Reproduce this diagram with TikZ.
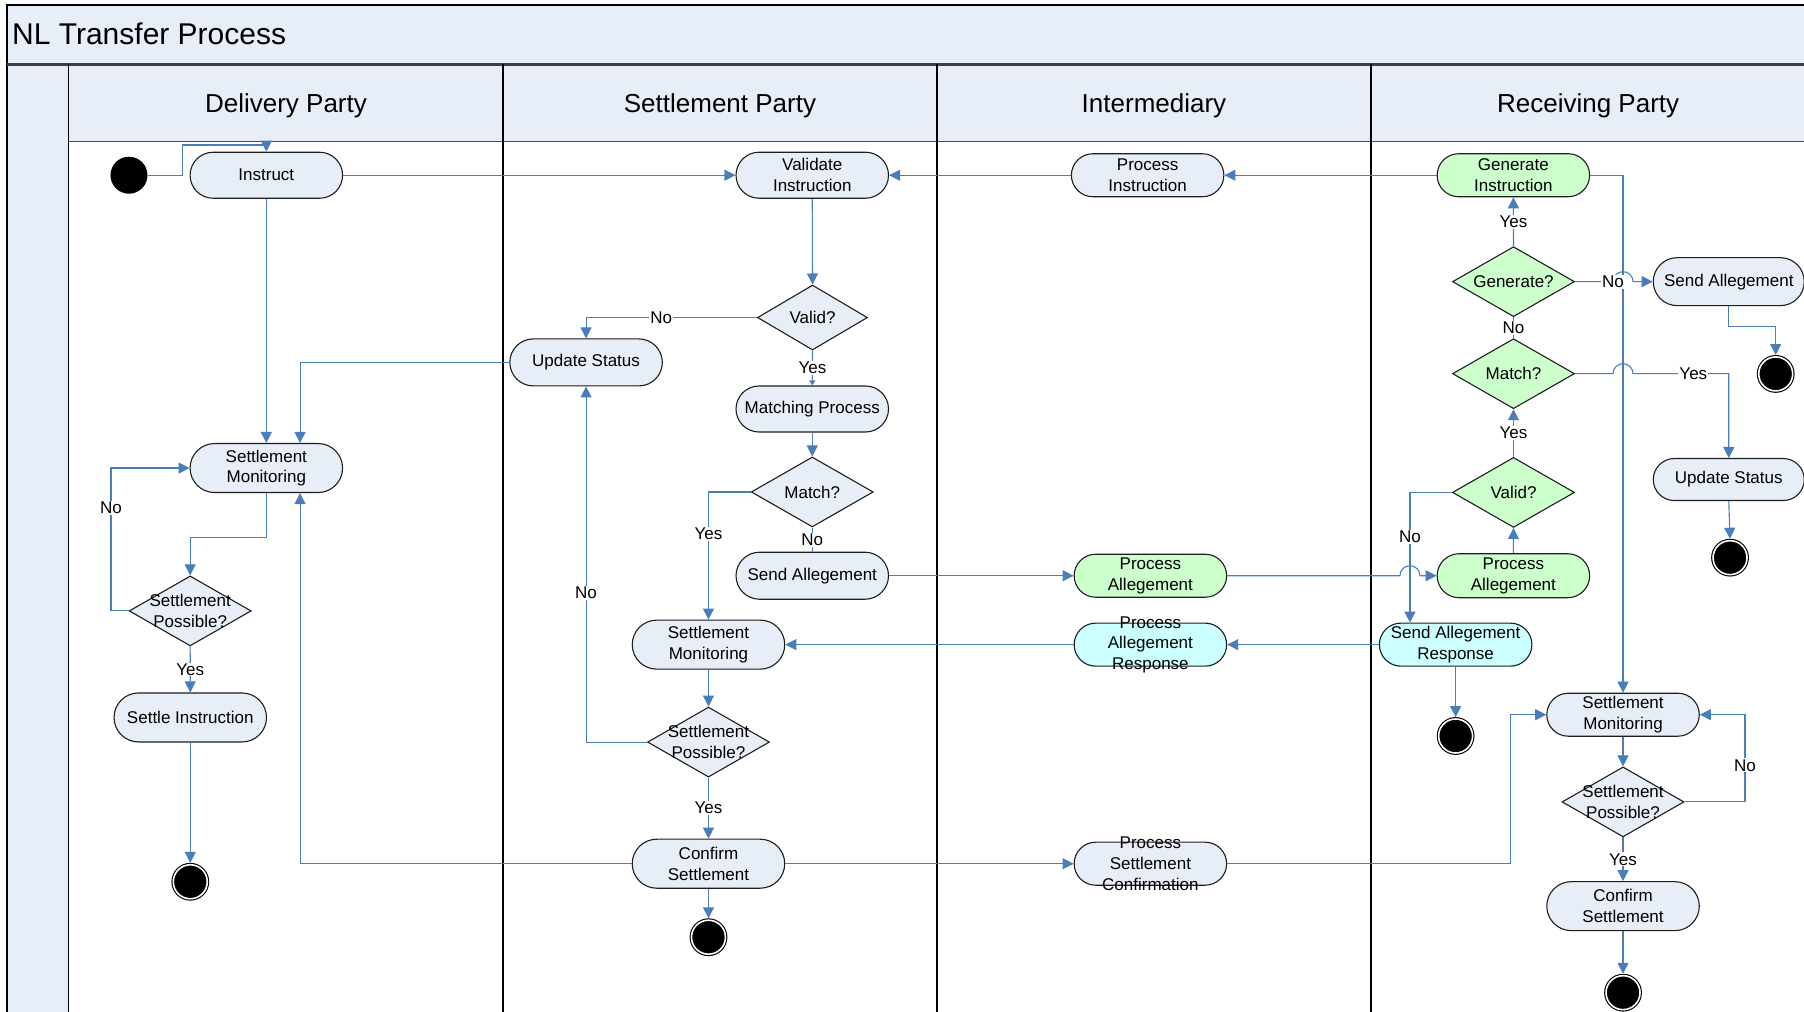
\documentclass[tikz,border=0pt]{standalone}
\usepackage{fontspec}
\setmainfont{Liberation Sans}
\usetikzlibrary{shapes.geometric,shapes.misc,arrows.meta,calc}

\definecolor{paleblue}{HTML}{E8EEF7}
\definecolor{palegreen}{HTML}{CCFFCC}
\definecolor{palecyan}{HTML}{CCFFFF}
\definecolor{flowblue}{HTML}{4A7EBB}
\definecolor{inkline}{HTML}{1E1E1E}
\newcommand{\nodefont}{\fontsize{17}{20.7}\selectfont}

\tikzset{
  act/.style={rounded rectangle, draw=inkline, line width=1.1pt, fill=paleblue,
    minimum width=152.5pt, minimum height=46pt, inner sep=0pt, align=center, font=\nodefont},
  actgreen/.style={act, fill=palegreen},
  actcyan/.style={act, fill=palecyan},
  decision/.style={diamond, draw=inkline, line width=1.1pt, fill=paleblue,
    minimum width=122pt, minimum height=70pt, inner sep=0pt},
  dectext/.style={align=center, font=\nodefont, inner sep=0pt},
  startdot/.style={circle, fill=black, minimum size=37pt, inner sep=0pt},
  enddot/.style={circle, fill=black, draw=black, line width=1.1pt, double=white,
    double distance=1.6pt, minimum size=34pt, inner sep=0pt, outer sep=1.9pt},
  flow/.style={draw=flowblue, line width=1.1pt, -{Triangle[length=11pt,width=11pt]}},
  shortflow/.style={draw=flowblue, line width=1.1pt, -{Triangle[length=5pt,width=6pt]}},
  plainflow/.style={draw=flowblue, line width=1.1pt},
  guard/.style={fill=white, inner sep=1pt, font=\nodefont},
  lanehead/.style={anchor=base, inner sep=0pt, font=\fontsize{26}{30}\selectfont},
}

\begin{document}
\begin{tikzpicture}[x=1.1505pt, y=-1.1505pt]
\useasboundingbox (0,0) rectangle (1568,879);
\clip (0,0) rectangle (1568,879);

% pool frame, title band, lane headers
\fill[white] (0,0) rectangle (1568,879);
\fill[paleblue] (6,4.3) rectangle (1575,56);
\fill[paleblue] (6,56) rectangle (59.2,885);
\fill[paleblue] (59.2,56) rectangle (1575,123.2);
\draw[black, line width=1.2pt] (1575,4.3) -- (6,4.3) -- (6,885);
\draw[black!75, line width=2.2pt] (6,56) -- (1575,56);
\draw[black!70, line width=1.3pt] (59.2,123.2) -- (1575,123.2);
\foreach \x in {59.2,437.2,814.4,1191.7}
  \draw[black, line width=1.2pt] (\x,56) -- (\x,885);

\node[anchor=west, inner sep=0pt, font=\fontsize{30}{34}\selectfont] (title) at (10.4,29.3) {NL Transfer Process};
\node[lanehead] (hdDel) at (248.6,97.6) {Delivery Party};
\node[lanehead] (hdSet) at (625.8,97.6) {Settlement Party};
\node[lanehead] (hdInt) at (1003,97.6) {Intermediary};
\node[lanehead] (hdRec) at (1380.4,97.6) {Receiving Party};

% Delivery Party
\node[startdot] (start) at (112.1,152.3) {};
\node[act] (instr) at (231.5,152.3) {Instruct};
\node[act, minimum height=49pt] (smD) at (231.5,406.8) {Settlement\\Monitoring};
\node[decision, label={[dectext]center:{Settlement\\Possible?}}] (spD) at (165.3,531) {};
\node[act, minimum height=49pt] (settle) at (165.4,623.6) {Settle Instruction};
\node[enddot] (endD) at (165.4,766.4) {};

% Settlement Party
\node[act] (valI) at (706,152.3) {Validate\\Instruction};
\node[decision, minimum width=110pt, minimum height=65pt, label={[dectext]center:{Valid?}}] (valS) at (706.2,276) {};
\node[act, minimum height=47pt] (updS) at (509.4,315) {Update Status};
\node[act] (match) at (706,355.5) {Matching Process};
\node[decision, label={[dectext]center:{Match?}}] (matchS) at (706,427.6) {};
\node[act, minimum height=47pt] (sendS) at (706,500.4) {Send Allegement};
\node[act, minimum height=49pt] (smS) at (615.8,560.3) {Settlement\\Monitoring};
\node[decision, label={[dectext]center:{Settlement\\Possible?}}] (spS) at (615.8,645) {};
\node[act, minimum height=49pt] (confS) at (615.8,750.7) {Confirm\\Settlement};
\node[enddot] (endS) at (615.8,814.6) {};

% Intermediary
\node[act, minimum height=43pt] (procI) at (997.5,152.3) {Process\\Instruction};
\node[actgreen, minimum height=43pt] (paI) at (999.9,500.4) {Process\\Allegement};
\node[actcyan, minimum height=43pt, label={[dectext]center:{Process\\Allegement\\Response}}] (parI) at (999.9,560.3) {};
\node[act, minimum height=43pt, label={[dectext]center:{Process\\Settlement\\Confirmation}}] (psc) at (999.9,750.7) {};

% Receiving Party
\node[actgreen, minimum height=43pt] (genI) at (1315.4,152.3) {Generate\\Instruction};
\node[decision, fill=palegreen, label={[dectext]center:{Generate?}}] (genD) at (1315.5,244.8) {};
\node[act, minimum width=151pt, minimum height=48pt] (sendR) at (1502.6,244.8) {Send Allegement};
\node[enddot] (endR1) at (1543.4,325) {};
\node[decision, fill=palegreen, label={[dectext]center:{Match?}}] (matchR) at (1315.5,324.8) {};
\node[act, minimum width=151pt, minimum height=42pt] (updR) at (1502.6,416.8) {Update Status};
\node[enddot] (endR2) at (1503.7,484.7) {};
\node[decision, fill=palegreen, label={[dectext]center:{Valid?}}] (validR) at (1315.5,428) {};
\node[actgreen, minimum height=44pt] (paR) at (1315.4,500.4) {Process\\Allegement};
\node[actcyan, minimum height=43pt] (sar) at (1265.2,560.3) {Send Allegement\\Response};
\node[enddot] (endR3) at (1265.2,639.7) {};
\node[act, minimum height=43pt] (smR) at (1410.7,621.2) {Settlement\\Monitoring};
\node[decision, label={[dectext]center:{Settlement\\Possible?}}] (spR) at (1410.7,697) {};
\node[act, minimum height=49pt] (confR) at (1410.7,787.6) {Confirm\\Settlement};
\node[enddot] (endR4) at (1410.7,862.8) {};

% bend points of the routed connectors
\coordinate (kS) at (158.7,126);
\coordinate (kA) at (260.8,0);
\coordinate (kD) at (0,467.3);
\coordinate (kDL) at (96.5,0);
\coordinate (kV) at (1225.5,0);
\coordinate (kR1) at (0,283.4);
\coordinate (kP) at (1313,0);
\coordinate (kL) at (1516.7,0);

% Delivery Party flows
\draw[flow] (start.east) -- (start.east -| kS) -- (kS) -- (kS -| instr.north) -- (instr.north);
\draw[flow] (instr.east) -- (valI.west);
\draw[flow] (instr.south) -- (smD.north);
\draw[flow] (smD.south) -- (smD.south |- kD) -- (spD.north |- kD) -- (spD.north);
\draw[flow] (spD.west) -- (spD.west -| kDL) -- node[guard, pos=0.72]{No} (kDL |- smD.west) -- (smD.west);
\draw[flow] (spD.south) -- node[guard]{Yes} (settle.north);
\draw[flow] (settle.south) -- (endD.north);

% Settlement Party flows
\draw[flow] (procI.west) -- (valI.east);
\draw[flow] (valI.south) -- (valS.north);
\draw[flow] (valS.west) -| node[guard, pos=0.28]{No} (updS.north);
\draw[flow] (updS.west) -| (kA |- smD.north);
\draw[shortflow] (valS.south) -- node[guard]{Yes} (match.north);
\draw[flow] (match.south) -- (matchS.north);
\draw[plainflow] (matchS.south) -- node[guard]{No} (sendS.north);
\draw[flow] (matchS.west) -| node[guard, pos=0.665]{Yes} (smS.north);
\draw[flow] (sendS.east) -- (paI.west);
\draw[flow] (smS.south) -- (spS.north);
\draw[flow] (spS.west) -| node[guard, pos=0.71]{No} (updS.south);
\draw[flow] (spS.south) -- node[guard]{Yes} (confS.north);
\draw[flow] (confS.south) -- (endS.north);
\draw[flow] (confS.west) -| (kA |- smD.south);
\draw[flow] (confS.east) -- (psc.west);

% Intermediary flows
\draw[flow] (genI.west) -- (procI.east);
\draw[flow] (sar.west) -- (parI.east);
\draw[flow] (parI.west) -- (smS.east);
\draw[flow] (psc.east) -- (psc.east -| kP) -- (kP |- smR.west) -- (smR.west);

% Receiving Party flows
\draw[flow] (genI.east) -| (smR.north);
\draw[flow] (genD.north) -- node[guard]{Yes} (genI.south);
\draw[plainflow] (genD.south) -- node[guard]{No} (matchR.north);
\draw[flow] (genD.east) -- node[guard, pos=1]{No} ($(genD.east -| smR.north)+(-10pt,0)$)
  arc[start angle=180, end angle=0, radius=10pt] -- (sendR.west);
\draw[flow] (matchR.east) -- ($(matchR.east -| smR.north)+(-10pt,0)$)
  arc[start angle=180, end angle=0, radius=10pt]
  -- node[guard, pos=0.63]{Yes} (matchR.east -| updR.north) -- (updR.north);
\draw[flow] (sendR.south) -- (sendR.south |- kR1) -- (endR1.north |- kR1) -- (endR1.north);
\draw[flow] (updR.south) -- (endR2.north);
\draw[flow] (validR.north) -- node[guard]{Yes} (matchR.south);
\draw[flow] (paR.north) -- (validR.south);
\draw[flow] (validR.west) -| node[guard, pos=0.67]{No} (kV |- sar.north);
\draw[flow] (paI.east) -- ($(paI.east -| kV)+(-10pt,0)$)
  arc[start angle=180, end angle=0, radius=10pt] -- (paR.west);
\draw[flow] (sar.south) -- (endR3.north);
\draw[flow] (smR.south) -- (spR.north);
\draw[flow] (spR.east) -- (spR.east -| kL) -- node[guard, pos=0.42]{No} (kL |- smR.east) -- (smR.east);
\draw[flow] (spR.south) -- node[guard]{Yes} (confR.north);
\draw[flow] (confR.south) -- (endR4.north);
\end{tikzpicture}
\end{document}
